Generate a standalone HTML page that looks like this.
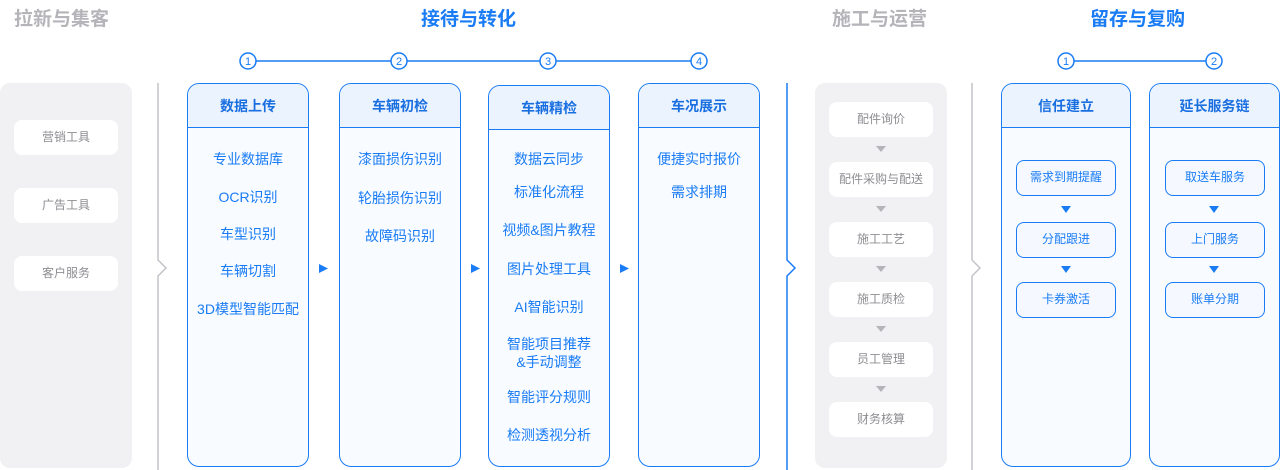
<!DOCTYPE html>
<html><head><meta charset="utf-8"><style>
*{margin:0;padding:0;box-sizing:border-box}
body{width:1280px;height:470px;background:#fff;position:relative;overflow:hidden;font-family:"Liberation Sans","Noto Sans CJK SC",sans-serif}
.a{position:absolute}
.t{position:absolute;top:4px;font-size:19px;font-weight:bold;white-space:nowrap}
.g{color:#b4b4b9}.b{color:#1a7cf5}
.panel{position:absolute;background:#f1f1f3;border-radius:10px}
.wb{position:absolute;background:#fff;border-radius:8px;color:#8e8e93;font-size:12px;text-align:center;line-height:35px;height:35px}
.card{position:absolute;top:83px;height:384px;border:1.5px solid #1a7cf5;border-radius:12px;background:#f8fbff;overflow:hidden}
.hd{height:44px;background:#ebf3fe;border-bottom:1.5px solid #1a7cf5;color:#1a6fe0;font-weight:bold;font-size:14px;text-align:center;line-height:44px}
.it{position:absolute;left:0;right:0;text-align:center;color:#1a7cf5;font-size:14px;line-height:18px}
.bb{position:absolute;border:1.5px solid #1a7cf5;border-radius:8px;background:#f5f9ff;color:#1a7cf5;font-size:12px;text-align:center;height:36px;line-height:33px}
</style></head><body>
<div class="t g" style="left:14px">拉新与集客</div>
<div class="t b" style="left:421px">接待与转化</div>
<div class="t g" style="left:832px">施工与运营</div>
<div class="t b" style="left:1090px">留存与复购</div>

<svg class="a" style="left:0;top:0" width="1280" height="470">
<g stroke="#1a7cf5" stroke-width="1.5" fill="#fff">
<line x1="256" y1="61" x2="691" y2="61"/>
<line x1="1074" y1="61" x2="1206" y2="61"/>
<circle cx="248" cy="61" r="8"/><circle cx="399" cy="61" r="8"/><circle cx="548" cy="61" r="8"/><circle cx="699" cy="61" r="8"/>
<circle cx="1066" cy="61" r="8"/><circle cx="1214" cy="61" r="8"/>
</g>
<g fill="#1a7cf5" font-size="11" text-anchor="middle" font-family="Liberation Sans,sans-serif">
<text x="248" y="65">1</text><text x="399" y="65">2</text><text x="548" y="65">3</text><text x="699" y="65">4</text>
<text x="1066" y="65">1</text><text x="1214" y="65">2</text>
</g>
<polyline points="158,83 158,260 166,268 158,276 158,470" fill="none" stroke="#c4c4c8" stroke-width="1.5"/>
<polyline points="787,83 787,260 795,268 787,276 787,470" fill="none" stroke="#1a7cf5" stroke-width="1.5"/>
<polyline points="972,83 972,260 980,268 972,276 972,470" fill="none" stroke="#c4c4c8" stroke-width="1.5"/>
<g fill="#1a7cf5">
<polygon points="319,264 328,268.5 319,273"/><polygon points="471,264 480,268.5 471,273"/><polygon points="620,264 629,268.5 620,273"/>
<polygon points="1061,206 1071,206 1066,213"/><polygon points="1061,266 1071,266 1066,273"/>
<polygon points="1209,206 1219,206 1214,213"/><polygon points="1209,266 1219,266 1214,273"/>
</g>
</svg>

<div class="panel" style="left:0;top:83px;width:132px;height:385px"></div>
<div class="wb" style="left:14px;top:120px;width:104px">营销工具</div>
<div class="wb" style="left:14px;top:188px;width:104px">广告工具</div>
<div class="wb" style="left:14px;top:256px;width:104px">客户服务</div>

<div class="card" style="left:187px;width:122px"><div class="hd">数据上传</div>
<div class="it" style="top:66px">专业数据库</div><div class="it" style="top:104px">OCR识别</div><div class="it" style="top:141px">车型识别</div><div class="it" style="top:178px">车辆切割</div><div class="it" style="top:216px">3D模型智能匹配</div></div>
<div class="card" style="left:339px;width:122px"><div class="hd">车辆初检</div>
<div class="it" style="top:66px">漆面损伤识别</div><div class="it" style="top:105px">轮胎损伤识别</div><div class="it" style="top:143px">故障码识别</div></div>
<div class="card" style="left:488px;width:122px;top:85px;height:382px"><div class="hd">车辆精检</div>
<div class="it" style="top:64px">数据云同步</div><div class="it" style="top:97px">标准化流程</div><div class="it" style="top:135px">视频&amp;图片教程</div><div class="it" style="top:174px">图片处理工具</div><div class="it" style="top:212px">AI智能识别</div><div class="it" style="top:249px">智能项目推荐<br>&amp;手动调整</div><div class="it" style="top:302px">智能评分规则</div><div class="it" style="top:340px">检测透视分析</div></div>
<div class="card" style="left:638px;width:122px"><div class="hd">车况展示</div>
<div class="it" style="top:66px">便捷实时报价</div><div class="it" style="top:99px">需求排期</div></div>

<div class="panel" style="left:815px;top:83px;width:132px;height:385px"></div>
<div class="wb" style="left:829px;top:102px;width:104px">配件询价</div>
<div class="wb" style="left:829px;top:162px;width:104px">配件采购与配送</div>
<div class="wb" style="left:829px;top:222px;width:104px">施工工艺</div>
<div class="wb" style="left:829px;top:282px;width:104px">施工质检</div>
<div class="wb" style="left:829px;top:342px;width:104px">员工管理</div>
<div class="wb" style="left:829px;top:402px;width:104px">财务核算</div>
<svg class="a" style="left:0;top:0" width="1280" height="470"><g fill="#b4b4b9">
<polygon points="876,146 886,146 881,152"/><polygon points="876,206 886,206 881,212"/><polygon points="876,266 886,266 881,272"/><polygon points="876,326 886,326 881,332"/><polygon points="876,386 886,386 881,392"/></g></svg>

<div class="card" style="left:1001px;width:130px"><div class="hd">信任建立</div></div>
<div class="card" style="left:1149px;width:131px"><div class="hd">延长服务链</div></div>
<div class="bb" style="left:1016px;top:160px;width:100px">需求到期提醒</div>
<div class="bb" style="left:1016px;top:222px;width:100px">分配跟进</div>
<div class="bb" style="left:1016px;top:282px;width:100px">卡券激活</div>
<div class="bb" style="left:1165px;top:160px;width:100px">取送车服务</div>
<div class="bb" style="left:1165px;top:222px;width:100px">上门服务</div>
<div class="bb" style="left:1165px;top:282px;width:100px">账单分期</div>
<svg class="a" style="left:0;top:0" width="1280" height="470"><g fill="#1a7cf5">
<polygon points="1061,206 1071,206 1066,213"/><polygon points="1061,266 1071,266 1066,273"/>
<polygon points="1209,206 1219,206 1214,213"/><polygon points="1209,266 1219,266 1214,273"/></g></svg>
</body></html>
